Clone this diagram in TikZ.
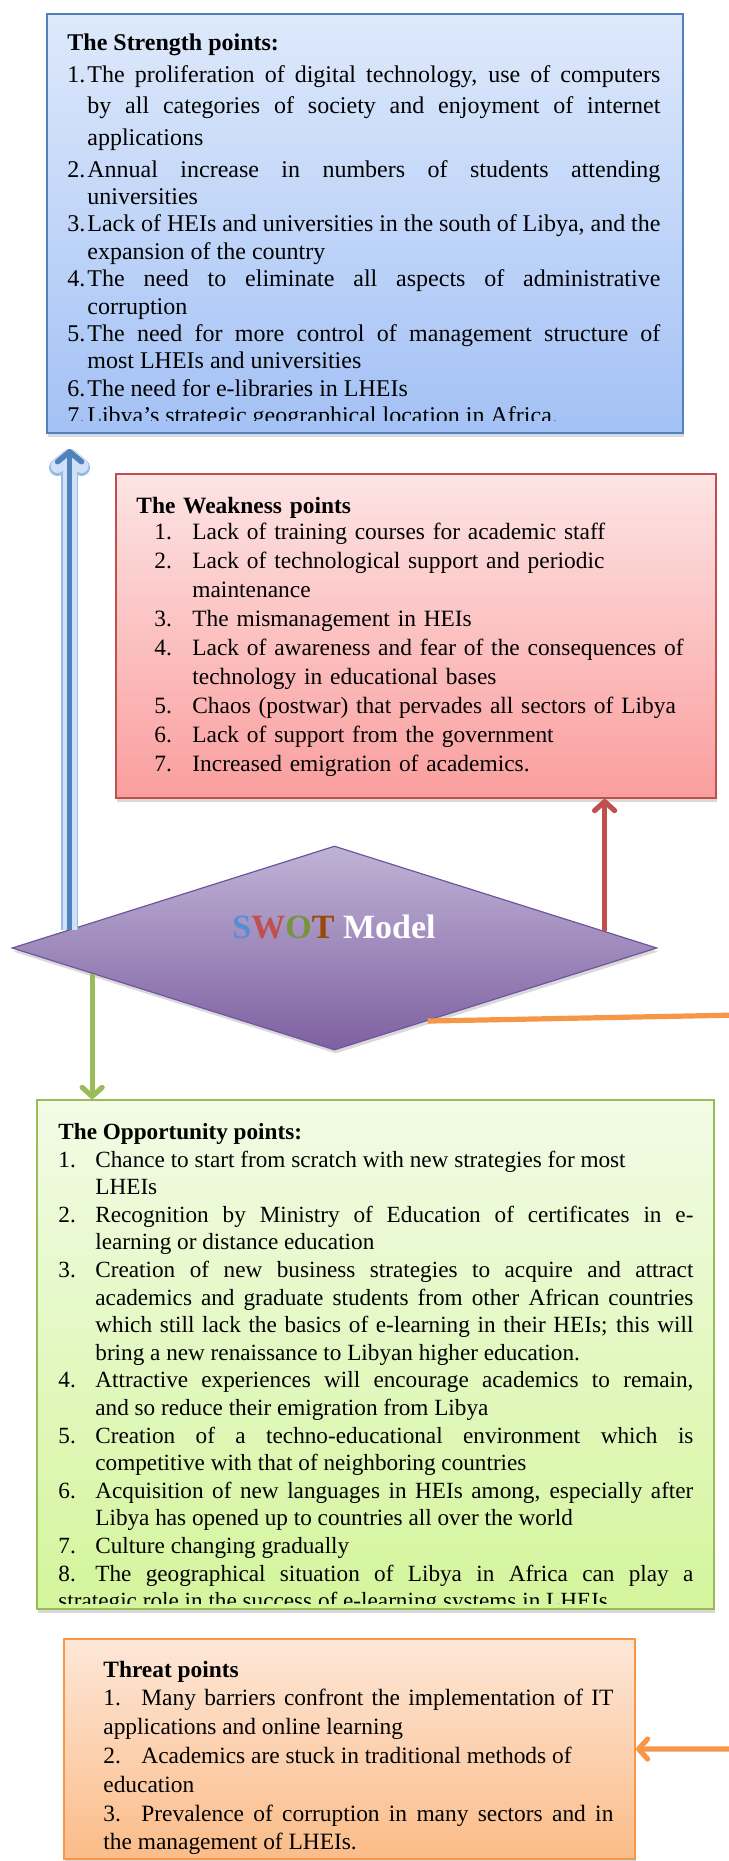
\documentclass[tikz,border=0pt]{standalone}
\usepackage{fontspec}
\setmainfont{Liberation Serif}
\usetikzlibrary{shapes.geometric,arrows.meta,calc,shadows}

\definecolor{strline}{RGB}{79,129,189}
\definecolor{strtop}{RGB}{222,233,251}
\definecolor{strbot}{RGB}{163,193,245}
\definecolor{weakline}{RGB}{192,80,77}
\definecolor{weaktop}{RGB}{253,228,228}
\definecolor{weakbot}{RGB}{250,158,158}
\definecolor{swotline}{RGB}{112,84,160}
\definecolor{swottop}{RGB}{192,179,214}
\definecolor{swotbot}{RGB}{126,97,161}
\definecolor{oppline}{RGB}{155,187,89}
\definecolor{opptop}{RGB}{242,251,230}
\definecolor{oppbot}{RGB}{212,245,156}
\definecolor{thrline}{RGB}{247,150,70}
\definecolor{thrtop}{RGB}{253,231,216}
\definecolor{thrbot}{RGB}{251,188,136}
\definecolor{bluepale}{RGB}{208,224,246}
\definecolor{blueedge}{RGB}{150,185,230}
\definecolor{letS}{RGB}{85,142,213}
\definecolor{letW}{RGB}{192,80,77}
\definecolor{letO}{RGB}{119,147,60}
\definecolor{letT}{RGB}{152,72,7}

% numbered point with hanging indent: [lead]{hang}{number}{text}
\newcommand{\pnt}[4][0pt]{\par\noindent\hangindent=#2\hangafter=1%
  \hspace*{#1}\makebox[\dimexpr#2-#1\relax][l]{#3}#4}

\begin{document}
\begin{tikzpicture}[x=0.5pt, y=-0.5pt,
    box/.style = {draw, line width=1pt, inner sep=0pt, anchor=north west,
      drop shadow={shadow xshift=0.6pt, shadow yshift=-1.8pt, opacity=0.3}},
    strength/.style = {box, draw=strline, top color=strtop, bottom color=strbot,
      minimum width=318pt, minimum height=209.5pt},
    weakness/.style = {box, draw=weakline, top color=weaktop, bottom color=weakbot,
      minimum width=300pt, minimum height=162pt},
    opportunity/.style = {box, draw=oppline, top color=opptop, bottom color=oppbot,
      minimum width=338.5pt, minimum height=254.5pt},
    threat/.style = {box, draw=thrline, top color=thrtop, bottom color=thrbot,
      minimum width=285.5pt, minimum height=110pt},
    swot/.style = {diamond, draw=swotline, line width=0.6pt, inner sep=0pt,
      top color=swottop, bottom color=swotbot,
      minimum width=322.5pt, minimum height=102pt,
      drop shadow={shadow xshift=0.6pt, shadow yshift=-1.8pt, opacity=0.3}},
    points/.style 2 args = {anchor=north west, inner sep=0pt,
      font=\fontsize{#1}{#2}\selectfont},
    link/.style = {line width=2.6pt, line join=round,
      -{Straight Barb[length=4.5pt, width=10pt, round]}},
    bluelink/.style = {line join=round,
      -{Straight Barb[length=5pt, width=12pt, round]}}]

  \useasboundingbox (0,0) rectangle (728,1861);

  % the four boxes and the diamond
  \node[strength] (str) at (46,13) {};
  \node[weakness] (weak) at (115,473) {};
  \node[opportunity] (opp) at (36,1099) {};
  \node[threat] (thr) at (63,1638) {};
  \node[swot] (model) at (334.5,948) {};
  \node[font=\bfseries\fontsize{17}{17}\selectfont] (swottitle) at (334,927)
    {\textcolor{letS}{S}\textcolor{letW}{W}\textcolor{letO}{O}\textcolor{letT}{T}
     \textcolor{white}{Model}};

  % strengths
  \begin{scope}
    \clip (str.north west) rectangle ($(str.south east)+(0,-13)$);
    \node[points={12}{13.7}, text width=296.5pt, align=justify] (strtext) at (67,33.6) {%
      \noindent\textbf{The Strength points:}
      {\fontsize{12}{15.75}\selectfont
      \pnt{10pt}{1.}{The proliferation of digital technology, use of computers\linebreak
        by all categories of society and enjoyment of internet\linebreak applications}\par}
      \vspace{2.3pt}
      \pnt{10pt}{2.}{Annual increase in numbers of students attending\linebreak universities}
      \pnt{10pt}{3.}{Lack of HEIs and universities in the south of Libya, and the\linebreak
        expansion of the country}
      \pnt{10pt}{4.}{The need to eliminate all aspects of administrative\linebreak corruption}
      \pnt{10pt}{5.}{The need for more control of management structure of\linebreak
        most LHEIs and universities}
      \pnt{10pt}{6.}{The need for e-libraries in LHEIs}
      \pnt{10pt}{7.}{Libya’s strategic geographical location in Africa.}};
  \end{scope}

  % weaknesses
  \node[points={11.7}{14.5}, text width=286pt, align=left] (weaktext) at (136,497) {%
    \noindent\textbf{The Weakness points}\par\vspace{-1.5pt}
    \pnt[9pt]{28pt}{1.}{Lack of training courses for academic staff}
    \pnt[9pt]{28pt}{2.}{Lack of technological support and periodic\linebreak maintenance}
    \pnt[9pt]{28pt}{3.}{The mismanagement in HEIs}
    \pnt[9pt]{28pt}{4.}{Lack of awareness and fear of the consequences of\linebreak
      technology in educational bases}
    \pnt[9pt]{28pt}{5.}{Chaos (postwar) that pervades all sectors of Libya}
    \pnt[9pt]{28pt}{6.}{Lack of support from the government}
    \pnt[9pt]{28pt}{7.}{Increased emigration of academics.}};

  % opportunities
  \begin{scope}
    \clip (opp.north west) rectangle ($(opp.south east)+(0,-7)$);
    \node[points={11.6}{13.8}, text width=317.5pt, align=justify] (opptext) at (58,1123) {%
      \noindent\textbf{The Opportunity points:}
      \pnt{18.5pt}{1.}{Chance to start from scratch with new strategies for most\newline LHEIs}
      \pnt{18.5pt}{2.}{Recognition by Ministry of Education of certificates in e-\linebreak
        learning or distance education}
      \pnt{18.5pt}{3.}{Creation of new business strategies to acquire and attract\linebreak
        academics and graduate students from other African countries\linebreak
        which still lack the basics of e-learning in their HEIs; this will\linebreak
        bring a new renaissance to Libyan higher education.}
      \pnt{18.5pt}{4.}{Attractive experiences will encourage academics to remain,\linebreak
        and so reduce their emigration from Libya}
      \pnt{18.5pt}{5.}{Creation of a techno-educational environment which is\linebreak
        competitive with that of neighboring countries}
      \pnt{18.5pt}{6.}{Acquisition of new languages in HEIs among, especially after\linebreak
        Libya has opened up to countries all over the world}
      \pnt{18.5pt}{7.}{Culture changing gradually}
      \pnt{18.5pt}{8.}{The geographical situation of Libya in Africa can play a\linebreak
        strategic role in the success of e-learning systems in LHEIs}};
  \end{scope}

  % threats
  \node[points={11.7}{14.4}, text width=255pt, align=justify] (thrtext) at (103,1660.5) {%
    \noindent\textbf{Threat points}\par
    \noindent\makebox[19pt][l]{1.}Many barriers confront the implementation of IT\linebreak
      applications and online learning\par
    \noindent\makebox[19pt][l]{2.}Academics are stuck in traditional methods of\newline
      education\par
    \noindent\makebox[19pt][l]{3.}Prevalence of corruption in many sectors and in\linebreak
      the management of LHEIs.};

  % connectors from the diamond
  \coordinate (sb) at ($(model.west)!0.18!(model.north)$);
  \coordinate (se) at ($(str.south -| sb)+(0,15)$);
  \draw[bluelink, blueedge, line width=8.5pt] (sb) -- (se);
  \draw[bluelink, bluepale, line width=7pt] (sb) -- (se);
  \draw[bluelink, strline, line width=2.75pt] (sb) -- (se);

  \coordinate (rb) at ($(model.north)!0.836!(model.east)$);
  \draw[link, weakline] (rb) -- (rb |- weak.south);

  \coordinate (gb) at ($(model.west)!0.25!(model.south)$);
  \draw[link, oppline] (gb) -- (gb |- opp.north);

  \coordinate (ob) at ($(model.east)!0.712!(model.south)$);
  \coordinate (oc) at (740,1015);
  \draw[link, thrline] (ob) -- (oc) |- (thr.east);
\end{tikzpicture}
\end{document}
